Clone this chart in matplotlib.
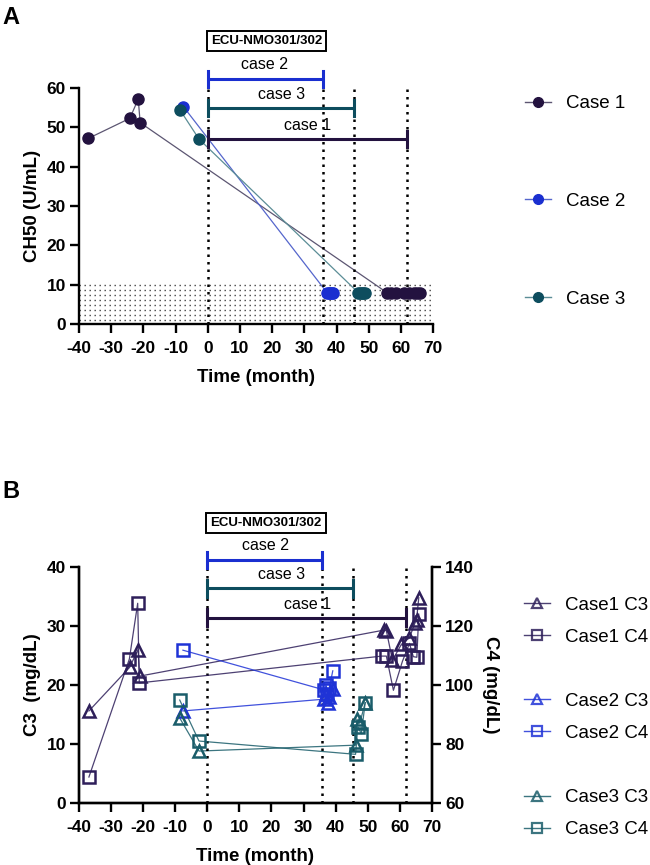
import matplotlib
matplotlib.use('Agg')
import matplotlib.pyplot as plt
from matplotlib.lines import Line2D
import numpy as np

plt.rcParams['font.family'] = ['Liberation Sans', 'DejaVu Sans']
plt.rcParams['axes.unicode_minus'] = False

# ---------------- Panel A data (CH50, U/mL) ----------------
a_c1_t = [-37.1, -24.2, -21.6, -21.0, 55.6, 57.0, 58.5, 61.0, 62.5, 64.0, 65.0, 65.9]
a_c1_v = [47.2, 52.3, 57.2, 51.2, 8, 8, 8, 8, 8, 8, 8, 8]
a_c2_t = [-7.6, 37.0, 37.5, 38.0, 38.5, 39.0]
a_c2_v = [55.3, 8, 8, 8, 8, 8]
a_c3_t = [-8.6, -2.7, 46.7, 47.2, 47.8, 48.3, 48.9]
a_c3_v = [54.4, 47.0, 8, 8, 8, 8, 8]
ch50_limit = 10  # below detection limit band

# ---------------- Panel B data (C3 / C4, mg/dL) ----------------
b_c1_c3_t = [-36.9, -24.2, -21.6, -21.1, 55.0, 55.8, 57.7, 60.5, 63.0, 64.7, 65.2, 65.9]
b_c1_c3_v = [15.6, 23.0, 26.0, 21.5, 29.3, 29.2, 24.2, 26.9, 28.0, 30.5, 31.0, 34.8]
b_c1_c4_t = [-36.9, -24.3, -21.7, -21.2, 54.4, 55.8, 58.0, 60.8, 63.0, 64.2, 65.3, 65.9]
b_c1_c4_v = [68.8, 108.8, 127.7, 100.7, 109.8, 109.8, 98.2, 108.0, 114.1, 109.6, 109.4, 124.0]
b_c2_c3_t = [-7.6, 36.5, 37.0, 37.5, 38.0, 39.1]
b_c2_c3_v = [15.6, 17.6, 18.5, 17.0, 18.0, 19.4]
b_c2_c4_t = [-7.6, 36.5, 37.0, 37.3, 38.0, 39.1]
b_c2_c4_v = [111.8, 98.3, 100.0, 96.8, 99.0, 104.8]
b_c3_c3_t = [-8.6, -2.6, 46.2, 46.6, 47.5, 49.2]
b_c3_c3_v = [14.4, 8.8, 9.8, 14.2, 13.5, 17.0]
b_c3_c4_t = [-8.6, -2.6, 46.2, 46.9, 48.0, 49.2]
b_c3_c4_v = [94.9, 81.0, 76.5, 85.8, 83.5, 94.0]

# treatment durations (months) in ECU-NMO301/302
treat_case = ['case 2', 'case 3', 'case 1']
treat_end = [35.7, 45.4, 61.8]

x_ticks = list(range(-40, 71, 10))

col1, col2, col3 = '#23123f', '#1a2fd0', '#0d4d5e'
lcol1, lcol2, lcol3 = '#5c5672', '#5566cc', '#5b8d96'
bcol1, bcol2, bcol3 = '#2e1f5a', '#1f33d6', '#1a5d6a'

fig = plt.figure(figsize=(6.5, 8.65), dpi=100)

def style_axes(ax):
    for s in ['left', 'bottom', 'right']:
        ax.spines[s].set_linewidth(1.7)
    ax.spines['top'].set_visible(False)
    ax.tick_params(width=1.7, length=6.5, labelsize=12.5, direction='out', pad=3)
    ax.tick_params(axis='x', pad=6)
    for lab in ax.get_xticklabels() + ax.get_yticklabels():
        lab.set_fontweight('bold')

def brackets(ax, ys, cap, labels_y, box_y, label_x, vtops):
    cols = [col2, col3, col1]
    for (name, end, y, ly, lx, c) in zip(treat_case, treat_end, ys, labels_y, label_x, cols):
        ax.plot([0, end], [y, y], color=c, lw=2.2, clip_on=False, solid_capstyle='butt', zorder=5)
        for xx in (0, end):
            ax.plot([xx, xx], [y - cap, y + cap], color=c, lw=2.2, clip_on=False, zorder=5)
        ax.text(lx, ly, name, ha='center', va='center', fontsize=11.5, clip_on=False)
    ax.text(18.3, box_y, 'ECU-NMO301/302', ha='center', va='center', fontsize=9.5,
            fontweight='bold', clip_on=False,
            bbox=dict(boxstyle='square,pad=0.3', fc='white', ec='black', lw=1.4))
    for xx, top in zip([0] + treat_end, vtops):
        ax.plot([xx, xx], [ax.get_ylim()[0], top], color='black', lw=1.8,
                linestyle=(0, (1, 2)), clip_on=False, zorder=4)

# ================= Panel A =================
axA = fig.add_axes([0.1215, 0.6254, 0.545, 0.2728])
axA.set_xlim(-40, 70)
axA.set_ylim(0, 60)
# dotted band for values below the detection limit
band_rows = np.arange(ch50_limit, 0, -1.27)
axA.hlines(band_rows, -40, 70, colors='#444444', linewidth=1.0,
           linestyles=[(0, (1, 2.6))], zorder=1)
for t, v, c, lc in [(a_c1_t, a_c1_v, col1, lcol1), (a_c2_t, a_c2_v, col2, lcol2),
                    (a_c3_t, a_c3_v, col3, lcol3)]:
    axA.plot(t, v, color=lc, lw=0.9, zorder=3)
    axA.plot(t, v, linestyle='none', marker='o', ms=8, mfc=c, mec=c, zorder=6)
axA.spines['right'].set_visible(False)
axA.set_xticks(x_ticks)
axA.set_yticks(range(0, 61, 10))
style_axes(axA)
axA.set_xlabel('Time (month)', fontsize=13.5, fontweight='bold', labelpad=9)
axA.set_ylabel('CH50 (U/mL)', fontsize=13.5, fontweight='bold', labelpad=4)
brackets(axA, ys=[62.3, 54.9, 47.0], cap=2.0, labels_y=[66.1, 58.3, 50.6], box_y=72.0,
         label_x=[17.7, 22.9, 30.9], vtops=[62.3, 62.3, 60, 60])

hA = [Line2D([], [], color=lc, lw=1, marker='o', ms=7, mfc=c, mec=c)
      for c, lc in [(col1, lcol1), (col2, lcol2), (col3, lcol3)]]
fig.legend(hA, ['Case 1', 'Case 2', 'Case 3'], loc='upper left',
           bbox_to_anchor=(0.808, 0.890), frameon=False, fontsize=13.5,
           handlelength=1.35, handletextpad=0.8, labelspacing=4.3,
           borderpad=0, borderaxespad=0)

# ================= Panel B =================
axB = fig.add_axes([0.1215, 0.0717, 0.543, 0.2728])
axB.set_xlim(-40, 70)
axB.set_ylim(0, 40)
axR = axB.twinx()
axR.set_ylim(60, 140)
for t, v, c in [(b_c1_c3_t, b_c1_c3_v, bcol1), (b_c2_c3_t, b_c2_c3_v, bcol2),
                (b_c3_c3_t, b_c3_c3_v, bcol3)]:
    axB.plot(t, v, color=c, lw=0.9, alpha=0.85, zorder=3)
    axB.plot(t, v, linestyle='none', marker='^', ms=8.5, mfc='none', mec=c, mew=1.8, zorder=6)
for t, v, c in [(b_c1_c4_t, b_c1_c4_v, bcol1), (b_c2_c4_t, b_c2_c4_v, bcol2),
                (b_c3_c4_t, b_c3_c4_v, bcol3)]:
    axR.plot(t, v, color=c, lw=0.9, alpha=0.85, zorder=3)
    axR.plot(t, v, linestyle='none', marker='s', ms=8, mfc='none', mec=c, mew=1.8, zorder=6)
axB.set_xticks(x_ticks)
axB.set_yticks(range(0, 41, 10))
axR.set_yticks(range(60, 141, 20))
style_axes(axB)
style_axes(axR)
axB.set_xlabel('Time (month)', fontsize=13.5, fontweight='bold', labelpad=9)
axB.set_ylabel('C3  (mg/dL)', fontsize=13.5, fontweight='bold', labelpad=4)
axR.set_ylabel('C4 (mg/dL)', fontsize=13.5, fontweight='bold', rotation=270, labelpad=18)
brackets(axB, ys=[41.2, 36.4, 31.4], cap=1.4, labels_y=[43.6, 38.8, 33.7], box_y=47.5,
         label_x=[18.2, 23.1, 31.1], vtops=[41.2, 41.2, 40, 40])

blank = Line2D([], [], linestyle='none', marker='none')
hB = []
labB = []
for i, c in enumerate([bcol1, bcol2, bcol3]):
    hB.append(Line2D([], [], color=c, lw=1, alpha=0.85, marker='^', ms=7, mfc='none', mec=c, mew=1.6))
    hB.append(Line2D([], [], color=c, lw=1, alpha=0.85, marker='s', ms=6.5, mfc='none', mec=c, mew=1.6))
    labB += ['Case%d C3' % (i + 1), 'Case%d C4' % (i + 1)]
    if i < 2:
        hB.append(blank)
        labB.append(' ')
fig.legend(hB, labB, loc='upper left', bbox_to_anchor=(0.806, 0.3105), frameon=False,
           fontsize=13.5, handlelength=1.4, handletextpad=0.8, labelspacing=0.80,
           borderpad=0, borderaxespad=0)

fig.text(0.004, 0.993, 'A', fontsize=17, fontweight='bold', va='top', ha='left')
fig.text(0.004, 0.4446, 'B', fontsize=17, fontweight='bold', va='top', ha='left')

fig.savefig('out.png', dpi=100)
